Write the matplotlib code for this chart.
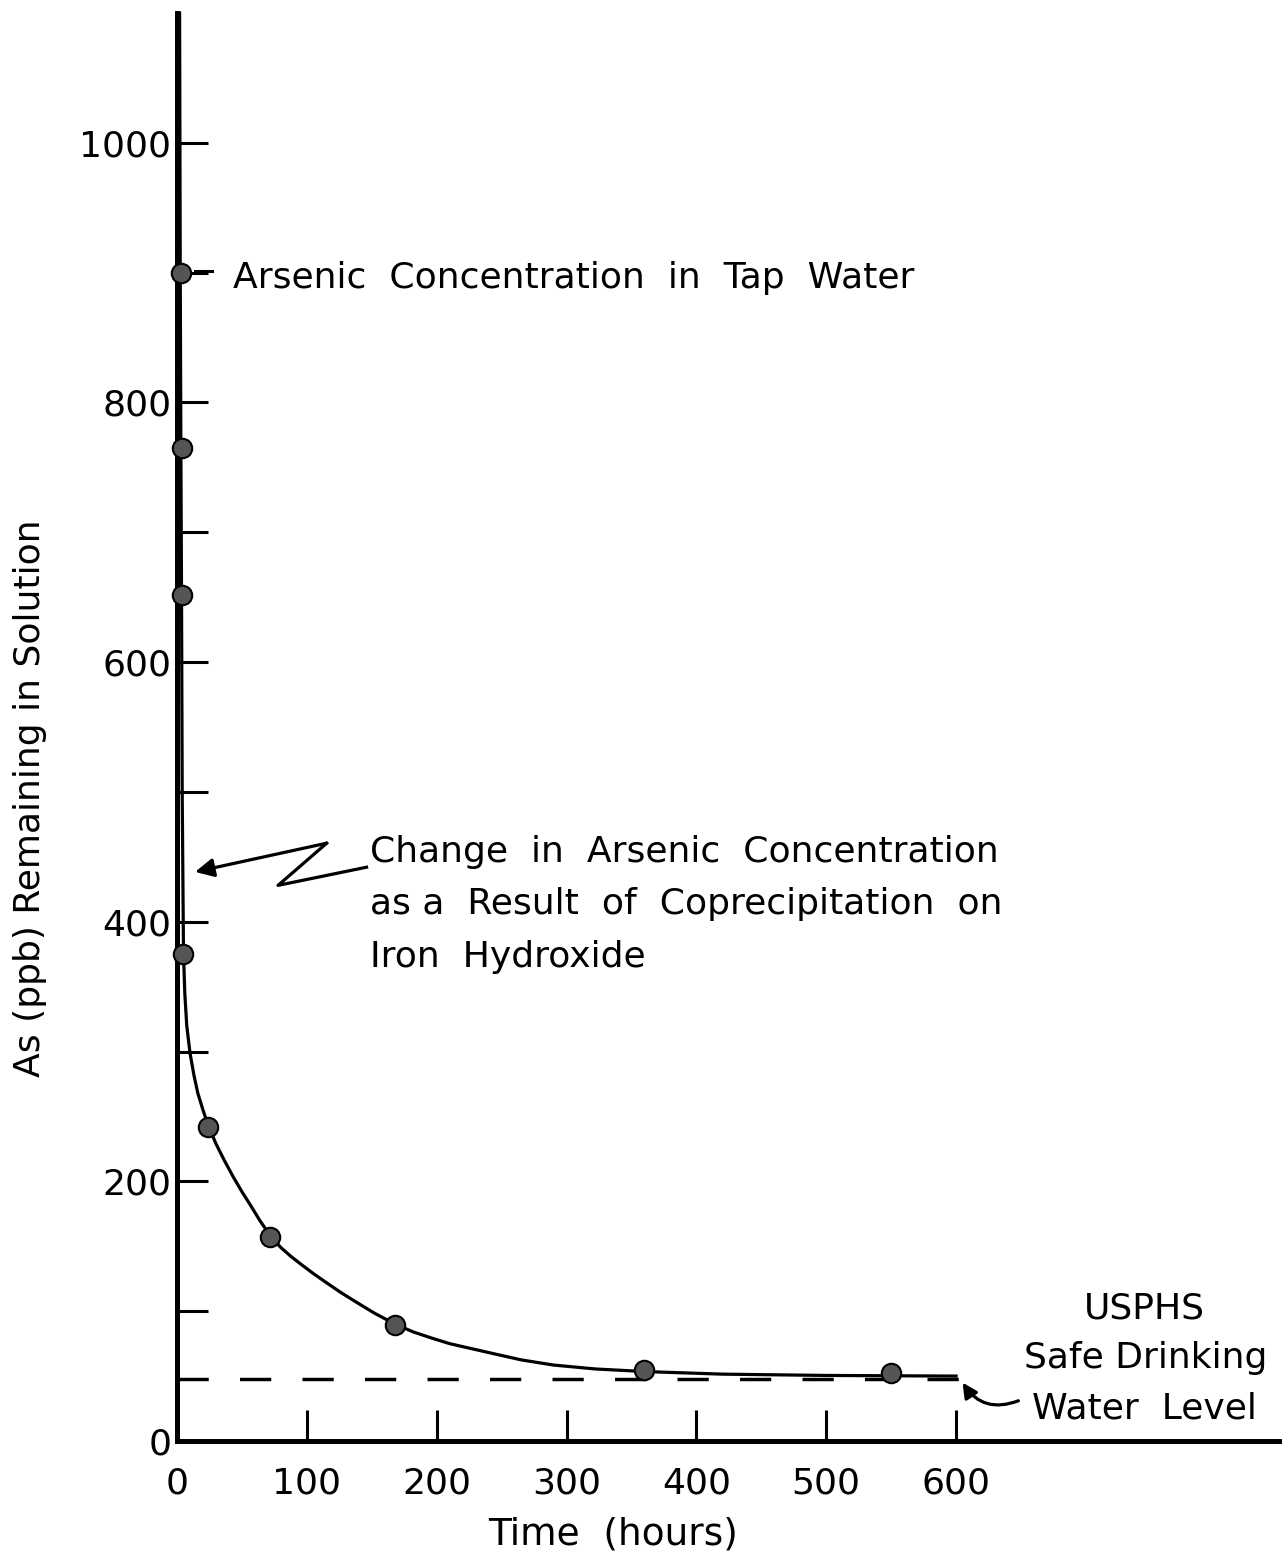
import matplotlib
matplotlib.use('Agg')
import matplotlib.pyplot as plt

# measured points (hours, ppb As)
time_h = [3, 4, 4, 5, 24, 72, 168, 360, 550]
arsenic_ppb = [900, 765, 652, 375, 242, 157, 89, 55, 52]

# smooth fitted curve
curve_t = [2, 2.5, 3, 3.5, 4, 5, 6, 7.5, 10, 13, 16, 20, 24, 30, 36, 43,
           50, 57, 64, 72, 80, 88, 95, 105, 115, 126, 138, 152, 168, 182,
           197, 210, 223, 245, 265, 290, 322, 360, 420, 500, 600]
curve_c = [1100, 900, 760, 650, 500, 376, 345, 320, 299, 282, 268, 255,
           243, 229, 217, 204, 192, 181, 169.5, 158, 149, 142, 136.5, 129,
           122, 114.5, 107, 98.5, 90, 84, 79, 75, 72, 67, 62.5, 58.5, 55.5,
           53.5, 51.5, 50.5, 50]

usphs_level = 48
usphs_span = [0, 624]

x_ticks = [0, 100, 200, 300, 400, 500, 600]
y_major = [0, 200, 400, 600, 800, 1000]
y_minor = [100, 300, 500, 700, 900]

plt.rcParams['font.family'] = ['DejaVu Sans']

fig = plt.figure(figsize=(12.82, 15.62), dpi=100)
ax = fig.add_axes([177 / 1282, 121 / 1562, 1 - 177 / 1282, 1428 / 1562])

ax.plot(curve_t, curve_c, color='black', lw=2.3, zorder=3, clip_on=False,
        solid_joinstyle='round')
ax.plot(time_h, arsenic_ppb, 'o', ms=14, mfc='#555555', mec='black',
        mew=1.5, zorder=4, clip_on=False)
ax.plot(usphs_span, [usphs_level, usphs_level], color='black', lw=2.5,
        dashes=(9, 9), zorder=2)

ax.set_xlim(0, 851)
ax.set_ylim(0, 1100)

for s in ['top', 'right']:
    ax.spines[s].set_visible(False)
for s in ['left', 'bottom']:
    ax.spines[s].set_linewidth(3.6)

ax.set_xticks(x_ticks)
ax.set_yticks(y_major)
ax.set_yticks(y_minor, minor=True)
ax.tick_params(axis='both', which='both', direction='in', length=22,
               width=2.2, labelsize=26)
ax.tick_params(axis='x', pad=18)
ax.tick_params(axis='y', pad=4)

ax.set_xlabel('Time  (hours)', fontsize=27)
ax.xaxis.set_label_coords((613 - 177) / 1105, -(1535 - 1441) / 1428)
ax.xaxis.label.set_va('center')
ax.set_ylabel('As (ppb) Remaining in Solution', fontsize=26)
ax.yaxis.set_label_coords(-(177 - 30) / 1105, (1441 - 798) / 1428)
ax.yaxis.label.set_va('center')

# tap water label
ax.plot([14, 27], [901, 901], color='black', lw=2.2)
ax.text(43, 896, 'Arsenic  Concentration  in  Tap  Water', fontsize=26,
        va='center', ha='left')

# coprecipitation label with zig-zag arrow
ax.text(148.6, 454, 'Change  in  Arsenic  Concentration', fontsize=26,
        va='center', ha='left')
ax.text(148.6, 414, 'as a  Result  of  Coprecipitation  on', fontsize=26,
        va='center', ha='left')
ax.text(148.6, 373, 'Iron  Hydroxide', fontsize=26, va='center', ha='left')
ax.plot([146, 77.8, 115.3], [442, 428, 460.5], color='black', lw=2.3,
        solid_joinstyle='round')
ax.annotate('', xy=(13.9, 438.4), xytext=(115.3, 460.5),
            arrowprops=dict(arrowstyle='-|>', lw=2.3, color='black',
                            mutation_scale=28, shrinkA=0, shrinkB=0))

# USPHS label
ax.text(745, 102, 'USPHS', fontsize=26, ha='center', va='center')
ax.text(746, 64, 'Safe Drinking', fontsize=26, ha='center', va='center')
ax.text(745, 25, 'Water  Level', fontsize=26, ha='center', va='center')
ax.annotate('', xy=(605, 45), xytext=(648, 31),
            arrowprops=dict(arrowstyle='-|>', lw=2.3, color='black',
                            mutation_scale=22, shrinkA=0, shrinkB=0,
                            connectionstyle='arc3,rad=-0.4'))

fig.savefig('out.png', dpi=100)
